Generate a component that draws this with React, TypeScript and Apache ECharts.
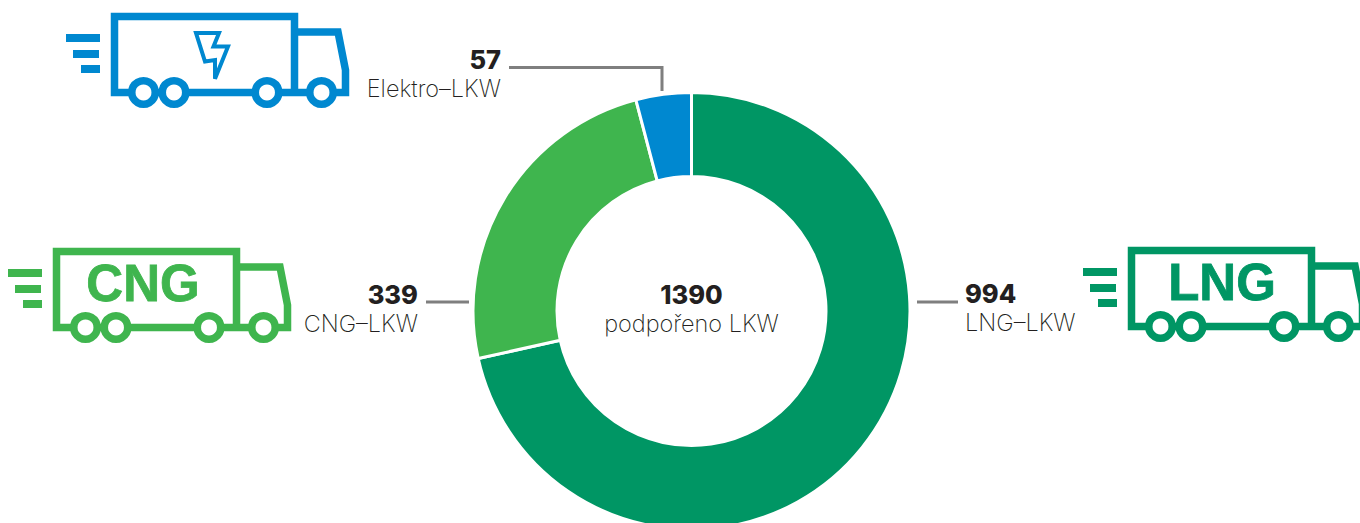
import React, { useEffect, useRef } from "react";
import * as echarts from "echarts";

const names = ["LNG–LKW", "CNG–LKW", "Elektro–LKW"];
const values = [994, 339, 57];
const colors = ["#009664", "#3FB54E", "#0088D0"];
const totalValue = 1390;
const totalLabel = "podpořeno LKW";
const truckTexts = ["LNG", "CNG", ""];

const FONT = "Inter";
const INK = "#231F20";
const LEAD = "#7F7F7F";

function truck(x: number, y: number, color: string, text: string, bolt: boolean, textX = 136) {
  const lw = 7.5;
  const children: any[] = [
    { type: "rect", shape: { x: 0, y: 34, width: 34, height: 8 }, style: { fill: color } },
    { type: "rect", shape: { x: 7, y: 50, width: 26, height: 8 }, style: { fill: color } },
    { type: "rect", shape: { x: 15, y: 65, width: 19, height: 8 }, style: { fill: color } },
    {
      type: "polyline",
      shape: { points: [[228.5, 92.5], [228.5, 16.5], [48.5, 16.5], [48.5, 92.5], [279.5, 92.5], [279.5, 70], [272, 32], [230, 32]] },
      style: { stroke: color, lineWidth: lw, fill: "none", lineJoin: "miter" },
    },
  ];
  [77.5, 108, 201, 255.5].forEach((cx) => {
    children.push({
      type: "circle",
      shape: { cx, cy: 92.5, r: 11.7 },
      style: { stroke: color, lineWidth: 7.5, fill: "#fff" },
    });
  });
  if (bolt) {
    children.push({
      type: "polygon",
      shape: { points: [[130, 33], [153, 33], [147.5, 46.5], [162, 46.5], [149, 78.7], [149, 60], [139, 61.5]] },
      style: { stroke: color, lineWidth: 4, fill: "none", lineJoin: "miter" },
    });
  }
  if (text) {
    children.push({
      type: "text",
      x: textX,
      y: 48,
      style: {
        text,
        fill: color,
        stroke: color,
        lineWidth: 0.8,
        font: `bold 51px "Liberation Sans"`,
        textAlign: "center",
        textVerticalAlign: "middle",
      },
    });
  }
  return { type: "group", x, y, children };
}

function label(x: number, y: number, value: number | string, name: string, align: string) {
  return [
    {
      type: "text",
      x,
      y,
      style: { text: String(value), fill: INK, font: `800 25.5px ${FONT}`, textAlign: align, textVerticalAlign: "middle" },
    },
    {
      type: "text",
      x,
      y: y + 29,
      style: { text: name, fill: INK, font: `200 23.5px ${FONT}`, textAlign: align, textVerticalAlign: "middle" },
    },
  ];
}

function leader(points: number[][]) {
  return {
    type: "polyline",
    shape: { points },
    style: { stroke: LEAD, lineWidth: 3, fill: "none" },
  };
}

export default function App() {
  const ref = useRef<HTMLDivElement>(null);
  useEffect(() => {
    const chart = echarts.init(ref.current!, null, { renderer: "svg" });
    chart.setOption({
      animation: false,
      backgroundColor: "#fff",
      series: [
        {
          type: "pie",
          center: [691.5, 311],
          radius: [134.5, 218.5],
          startAngle: 90,
          clockwise: true,
          silent: true,
          label: { show: false },
          labelLine: { show: false },
          itemStyle: { borderColor: "#fff", borderWidth: 3 },
          data: values.map((value, i) => ({ name: names[i], value, itemStyle: { color: colors[i] } })),
        },
      ],
      graphic: [
        truck(66, 0, colors[2], truckTexts[2], true),
        truck(8, 235, colors[1], truckTexts[1], false, 135),
        truck(1083, 234, colors[0], truckTexts[0], false, 139),
        leader([[509, 67.5], [662, 67.5], [662, 91]]),
        leader([[426, 302], [469, 302]]),
        leader([[917, 302], [958, 302]]),
        ...label(501, 59, values[2], names[2], "right"),
        ...label(418, 294, values[1], names[1], "right"),
        ...label(965, 293, values[0], names[0], "left"),
        ...label(691.5, 294, totalValue, totalLabel, "center"),
      ],
    });
    return () => chart.dispose();
  }, []);
  return <div ref={ref} style={{ position: "fixed", left: 0, top: 0, width: 1360, height: 523 }} />;
}
